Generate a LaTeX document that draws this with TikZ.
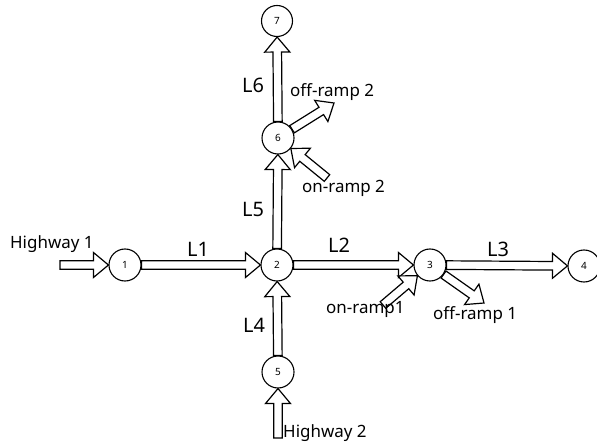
\documentclass[tikz,border=0pt]{standalone}
\usepackage{fontspec}
\setmainfont{Noto Sans}
\usetikzlibrary{calc,backgrounds}

\tikzset{
  junction/.style={circle, draw, fill=white, line width=1.1bp,
    minimum size=32bp, inner sep=0pt, font=\fontsize{10}{12}\selectfont},
  fatarrow/.style={draw, fill=white, line width=1.2bp, line join=miter},
  roadlabel/.style={anchor=base west, inner sep=0pt, font=\fontsize{17}{20}\selectfont},
  linklabel/.style={anchor=base west, inner sep=0pt, font=\fontsize{20}{24}\selectfont},
}

% hollow block arrow between two named points
\newcommand\hollowarrow[2]{%
  \coordinate (ha-s) at (#1);
  \coordinate (ha-e) at (#2);
  \coordinate (ha-b) at ($(ha-e)!15bp!(ha-s)$);
  \draw[fatarrow]
    ($(ha-s)!4.3bp!90:(ha-e)$) -- ($(ha-b)!4.3bp!-90:(ha-s)$)
    -- ($(ha-b)!12.5bp!-90:(ha-s)$) -- (ha-e)
    -- ($(ha-b)!12.5bp!90:(ha-s)$) -- ($(ha-b)!4.3bp!90:(ha-s)$)
    -- ($(ha-s)!4.3bp!-90:(ha-e)$) -- cycle;
}
% hollow arrow from the border of one node to the border of another
\newcommand\linkarrow[2]{%
  \path (#1) -- coordinate[pos=0] (la-s) coordinate[pos=1] (la-e) (#2);
  \hollowarrow{la-s}{la-e}%
}

\begin{document}
\begin{tikzpicture}[x=1bp, y=-1bp]
  \useasboundingbox (0,0) rectangle (597,445);

  % junctions
  \node[junction] (n1) at (125,265) {1};
  \node[junction] (n2) at (277,265) {2};
  \node[junction] (n3) at (430,265) {3};
  \node[junction] (n4) at (584,266) {4};
  \node[junction] (n5) at (278,372) {5};
  \node[junction] (n6) at (278,138) {6};
  \node[junction, minimum size=31bp] (n7) at (277,21) {7};

  % free ends of the entry and exit roads
  \coordinate (hw1) at (60,265);
  \coordinate (hw2) at (278,438);
  \coordinate (on2) at (327,178);
  \coordinate (off2) at (334,103);
  \coordinate (on1) at (383,305);
  \coordinate (off1) at (484,303);

  \begin{scope}[on background layer]
    \linkarrow{hw1}{n1}
    \linkarrow{n1}{n2}
    \linkarrow{n2}{n3}
    \linkarrow{n3}{n4}
    \linkarrow{hw2}{n5}
    \linkarrow{n5}{n2}
    \linkarrow{n2}{n6}
    \linkarrow{n6}{n7}
    \linkarrow{on2}{n6}
    \linkarrow{n6}{off2}
    \linkarrow{on1}{n3}
    \linkarrow{n3}{off1}
  \end{scope}

  % link names
  \node[linklabel] (l1) at (187,257) {L1};
  \node[linklabel] (l2) at (328,253) {L2};
  \node[linklabel] (l3) at (487,257) {L3};
  \node[linklabel] (l4) at (243,332) {L4};
  \node[linklabel] (l5) at (242,217) {L5};
  \node[linklabel] (l6) at (242,93) {L6};

  % road names
  \node[roadlabel] (t-hw1) at (10,249) {Highway 1};
  \node[roadlabel] (t-hw2) at (283,437) {Highway 2};
  \node[roadlabel] (t-off2) at (290,97) {off-ramp 2};
  \node[roadlabel] (t-on2) at (302,193) {on-ramp 2};
  \node[roadlabel] (t-on1) at (326,313) {on-ramp1};
  \node[roadlabel] (t-off1) at (433,319) {off-ramp 1};
\end{tikzpicture}
\end{document}
